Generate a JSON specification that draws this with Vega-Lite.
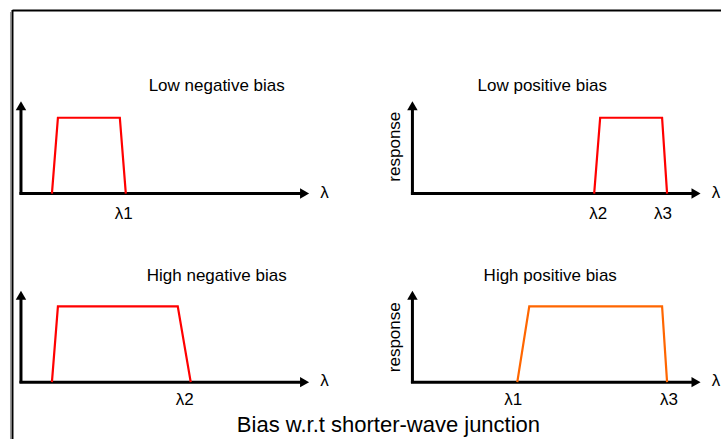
{
  "$schema": "https://vega.github.io/schema/vega-lite/v6.json",
  "autosize": {"type": "fit", "contains": "padding"},
  "width": 722,
  "height": 440,
  "padding": 0,
  "background": "white",
  "config": {"view": {"stroke": null}},
  "datasets": {
    "frame": [
      {"x": 12.5, "y": 10.5, "x2": 722, "y2": 10.5},
      {"x": 12.5, "y": 10, "x2": 12.5, "y2": 440}
    ],
    "frame2": [
      {"x": 10.5, "y": 12, "x2": 10.5, "y2": 440}
    ],
    "axes": [
      {"x": 21, "y": 195, "x2": 21, "y2": 108},
      {"x": 19.5, "y": 194, "x2": 302, "y2": 194},
      {"x": 413, "y": 195, "x2": 413, "y2": 108},
      {"x": 411.5, "y": 194, "x2": 694, "y2": 194},
      {"x": 21, "y": 384, "x2": 21, "y2": 298},
      {"x": 19.5, "y": 383, "x2": 302, "y2": 383},
      {"x": 413, "y": 384, "x2": 413, "y2": 298},
      {"x": 411.5, "y": 383, "x2": 694, "y2": 383}
    ],
    "up": [
      {"x": 21, "y": 106},
      {"x": 413, "y": 106},
      {"x": 21, "y": 296},
      {"x": 413, "y": 296}
    ],
    "right": [
      {"x": 305, "y": 194},
      {"x": 697, "y": 194},
      {"x": 305, "y": 383},
      {"x": 697, "y": 383}
    ],
    "curves": [
      {"panel": "Low negative bias", "bias": "negative", "o": 1, "x": 52, "y": 194},
      {"panel": "Low negative bias", "bias": "negative", "o": 2, "x": 58, "y": 118},
      {"panel": "Low negative bias", "bias": "negative", "o": 3, "x": 120, "y": 118},
      {"panel": "Low negative bias", "bias": "negative", "o": 4, "x": 126, "y": 194},
      {"panel": "Low positive bias", "bias": "low", "o": 1, "x": 595, "y": 194},
      {"panel": "Low positive bias", "bias": "low", "o": 2, "x": 601, "y": 118},
      {"panel": "Low positive bias", "bias": "low", "o": 3, "x": 663, "y": 118},
      {"panel": "Low positive bias", "bias": "low", "o": 4, "x": 668, "y": 194},
      {"panel": "High negative bias", "bias": "negative", "o": 1, "x": 52, "y": 383},
      {"panel": "High negative bias", "bias": "negative", "o": 2, "x": 58, "y": 307},
      {"panel": "High negative bias", "bias": "negative", "o": 3, "x": 178, "y": 307},
      {"panel": "High negative bias", "bias": "negative", "o": 4, "x": 191, "y": 383},
      {"panel": "High positive bias", "bias": "high", "o": 1, "x": 518, "y": 383},
      {"panel": "High positive bias", "bias": "high", "o": 2, "x": 530, "y": 307},
      {"panel": "High positive bias", "bias": "high", "o": 3, "x": 663, "y": 307},
      {"panel": "High positive bias", "bias": "high", "o": 4, "x": 668, "y": 383}
    ],
    "labels": [
      {"t": "Low negative bias", "x": 217, "y": 86},
      {"t": "Low positive bias", "x": 543, "y": 86},
      {"t": "High negative bias", "x": 217, "y": 277},
      {"t": "High positive bias", "x": 551, "y": 277},
      {"t": "λ", "x": 325, "y": 193},
      {"t": "λ", "x": 717, "y": 193},
      {"t": "λ", "x": 325, "y": 382},
      {"t": "λ", "x": 717, "y": 382},
      {"t": "λ1", "x": 124, "y": 214},
      {"t": "λ2", "x": 599, "y": 214},
      {"t": "λ3", "x": 664, "y": 214},
      {"t": "λ2", "x": 185, "y": 401},
      {"t": "λ1", "x": 514, "y": 401},
      {"t": "λ3", "x": 670, "y": 401}
    ],
    "ylabels": [
      {"t": "response", "x": 396, "y": 147},
      {"t": "response", "x": 396, "y": 338}
    ],
    "caption": [
      {"t": "Bias w.r.t shorter-wave junction", "x": 389, "y": 426}
    ]
  },
  "encoding": {
    "x": {"field": "x", "type": "quantitative", "scale": {"domain": [0, 722], "nice": false, "zero": false}, "axis": null},
    "y": {"field": "y", "type": "quantitative", "scale": {"domain": [0, 440], "reverse": true, "nice": false, "zero": false}, "axis": null}
  },
  "layer": [
    {
      "data": {"name": "frame2"},
      "mark": {"type": "rule", "stroke": "#9a9a9a", "strokeWidth": 1},
      "encoding": {"x2": {"field": "x2"}, "y2": {"field": "y2"}}
    },
    {
      "data": {"name": "frame"},
      "mark": {"type": "rule", "stroke": "black", "strokeWidth": 2},
      "encoding": {"x2": {"field": "x2"}, "y2": {"field": "y2"}}
    },
    {
      "data": {"name": "axes"},
      "mark": {"type": "rule", "stroke": "black", "strokeWidth": 3},
      "encoding": {"x2": {"field": "x2"}, "y2": {"field": "y2"}}
    },
    {
      "data": {"name": "up"},
      "mark": {"type": "point", "shape": "triangle-up", "filled": true, "color": "black", "opacity": 1, "size": 110}
    },
    {
      "data": {"name": "right"},
      "mark": {"type": "point", "shape": "triangle-right", "filled": true, "color": "black", "opacity": 1, "size": 110}
    },
    {
      "data": {"name": "curves"},
      "mark": {"type": "line", "strokeWidth": 2.2, "strokeJoin": "miter"},
      "encoding": {
        "detail": {"field": "panel"},
        "order": {"field": "o", "type": "quantitative"},
        "color": {"field": "bias", "type": "nominal", "scale": {"domain": ["negative", "low", "high"], "range": ["#ff0000", "#ff0000", "#ff6600"]}, "legend": null}
      }
    },
    {
      "data": {"name": "labels"},
      "mark": {"type": "text", "font": "Liberation Sans", "fontSize": 17, "color": "black", "align": "center", "baseline": "middle"},
      "encoding": {"text": {"field": "t"}}
    },
    {
      "data": {"name": "ylabels"},
      "mark": {"type": "text", "font": "Liberation Sans", "fontSize": 17, "color": "black", "align": "center", "baseline": "middle", "angle": 270},
      "encoding": {"text": {"field": "t"}}
    },
    {
      "data": {"name": "caption"},
      "mark": {"type": "text", "font": "Liberation Sans", "fontSize": 22, "color": "black", "align": "center", "baseline": "middle"},
      "encoding": {"text": {"field": "t"}}
    }
  ]
}
